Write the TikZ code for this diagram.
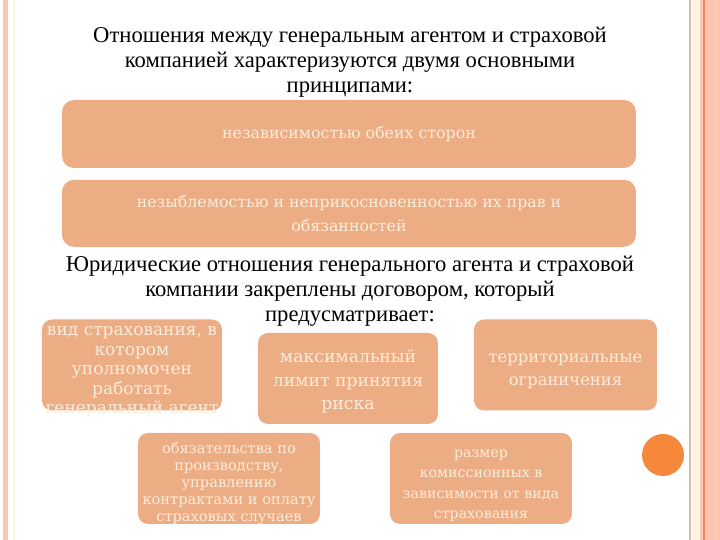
\documentclass[tikz,border=0pt]{standalone}
\usepackage{fontspec}
\setmainfont{Liberation Serif}
\newfontfamily\boxfont{DejaVu Serif}
\usetikzlibrary{positioning}

\definecolor{peach}{RGB}{237,173,132}
\definecolor{cream}{RGB}{252,236,218}
\definecolor{stripe}{RGB}{253,198,176}
\definecolor{darkstripe}{RGB}{240,138,98}
\definecolor{dotorange}{RGB}{245,136,58}
\definecolor{tanline}{RGB}{215,190,172}
\definecolor{paleline}{RGB}{255,244,226}

\begin{document}
\begin{tikzpicture}[
            x = 0.5pt, y = -0.5pt, % one unit = one pixel of the slide
            heading/.style = {align = center, inner sep = 0pt,
                font = \fontsize{11.3}{12.4}\selectfont},
            principle/.style = {fill = peach, text = cream, rounded corners = 6pt,
                align = center, minimum width = 287pt, inner sep = 0pt},
            term/.style = {fill = peach, rounded corners = 5pt,
                minimum width = 90pt, minimum height = 45.5pt, inner sep = 0pt},
            termtext/.style = {text = cream, align = center, inner sep = 0pt}
            ]

        \useasboundingbox (0,0) rectangle (720,540);

        % slide border
        \fill[stripe] (3,0) rectangle (8,540);
        \draw[paleline, line width = 1pt] (14,0) -- (14,540);
        \draw[tanline, line width = 0.6pt] (690,0) -- (690,540);
        \fill[paleline] (692,0) rectangle (699,540);
        \fill[stripe] (700,0) rectangle (720,540);
        \draw[darkstripe, line width = 0.8pt] (704,0) -- (704,540);
        \fill[dotorange] (663,455) circle (21);

        % first heading and the two principles
        \node[heading] (title) at (350,62) {Отношения между генеральным агентом и страховой\\
            компанией характеризуются двумя основными\\ принципами:};

        \node[principle, minimum height = 34pt, font = \boxfont\fontsize{7.9}{12}\selectfont]
            (indep) at (349,134) {\raisebox{-1.5pt}{независимостью обеих сторон}};
        \node[principle, minimum height = 33.5pt, font = \boxfont\fontsize{7.9}{12}\selectfont]
            (inviol) [below = 5.5pt of indep] {незыблемостью и неприкосновенностью их прав и\\ обязанностей};

        % second heading
        \node[heading] (contract) at (350,291) {Юридические отношения генерального агента и страховой\\
            компании закреплены договором, который\\ предусматривает:};

        % terms of the contract
        \node[term] (kind) at (132,365) {};
        \node[termtext, font = \boxfont\fontsize{8.5}{9.7}\selectfont]
            (kindtext) at ([yshift=-3.5pt]kind.center)
            {вид страхования, в\\ котором\\ уполномочен\\ работать\\ генеральный агент};

        \node[term] (limit) at (348,378.5) {};
        \node[termtext, font = \boxfont\fontsize{8.6}{11.75}\selectfont]
            (limittext) at ([yshift=-1.5pt]limit.center) {максимальный\\ лимит принятия\\ риска};

        \node[term, minimum width = 91.5pt] (territory) at (565.5,365) {};
        \node[termtext, font = \boxfont\fontsize{8.2}{11.5}\selectfont]
            (territorytext) at ([yshift=-3pt]territory.center) {территориальные\\ ограничения};

        \node[term, minimum width = 91pt] (duties) at (229,478.5) {};
        \node[termtext, font = \boxfont\fontsize{7.3}{8.4}\selectfont]
            (dutiestext) at ([yshift=-2.5pt]duties.center)
            {обязательства по\\ производству,\\ управлению\\ контрактами и оплату\\ страховых случаев};

        \node[term, minimum width = 91pt] (fee) at (481,478.5) {};
        \node[termtext, font = \boxfont\fontsize{7.1}{10.2}\selectfont]
            (feetext) at ([yshift=-3.5pt]fee.center) {размер\\ комиссионных в\\ зависимости от вида\\ страхования};

\end{tikzpicture}
\end{document}
